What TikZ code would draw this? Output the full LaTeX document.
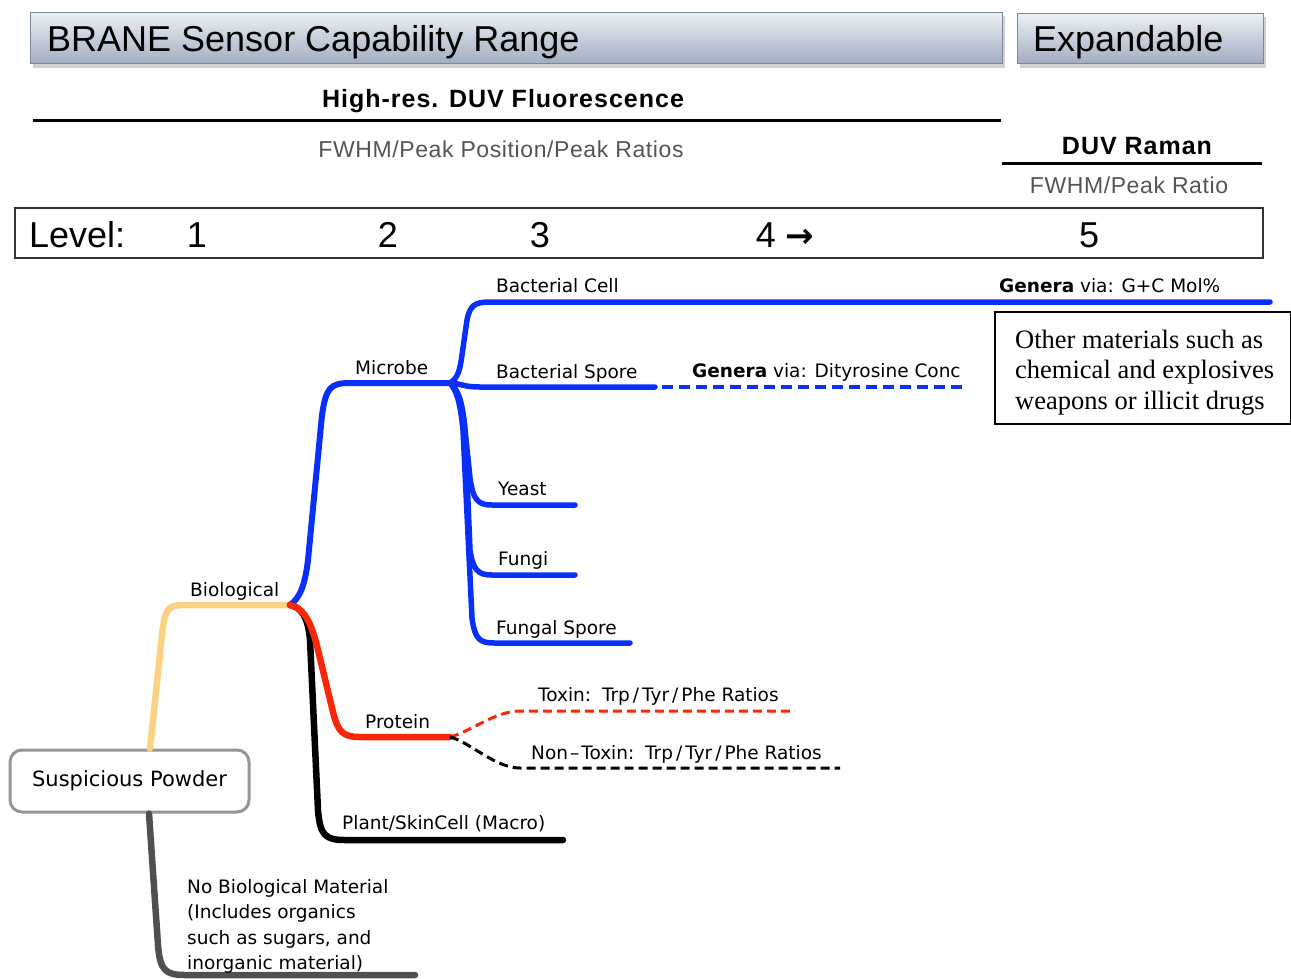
\documentclass[tikz,border=0pt]{standalone}
\usepackage{fontspec}
\setmainfont{Liberation Sans}
\newfontfamily\treefont{DejaVu Sans}
\newfontfamily\boxserif{Liberation Serif}
\newfontfamily\arrowfont{DejaVu Sans}
\definecolor{brblue}{RGB}{8,48,250}
\definecolor{bryellow}{RGB}{250,210,130}
\definecolor{brred}{RGB}{250,40,10}
\definecolor{brgray}{RGB}{80,80,80}
\definecolor{subgray}{RGB}{85,85,85}
\definecolor{bartop}{RGB}{238,241,246}
\definecolor{barbot}{RGB}{162,174,194}
\definecolor{barline}{RGB}{125,135,155}
\definecolor{nodegray}{RGB}{150,150,150}
\newcommand{\myslash}{\kern3pt/\kern3pt}
\begin{document}
\begin{tikzpicture}[x=1pt,y=-1pt,
  headbar/.style={draw=barline, line width=1pt, top color=bartop, bottom color=barbot, rectangle, inner sep=0pt},
  headtxt/.style={font=\fontsize{36}{40}\selectfont, inner sep=0pt, anchor=base},
  subhead/.style={font=\bfseries\fontsize{25}{28}\selectfont\addfontfeature{LetterSpace=4}, inner sep=0pt, anchor=base},
  subtxt/.style={font=\fontsize{23}{26}\selectfont\addfontfeature{LetterSpace=2.6}, text=subgray, inner sep=0pt, anchor=base},
  lbl/.style={font=\treefont\fontsize{18.5}{22}\selectfont, inner sep=0pt, anchor=base west},
  boxtxt/.style={font=\boxserif\fontsize{26.5}{30.5}\selectfont, inner sep=0pt, anchor=base west},
  br/.style={line width=6pt, line cap=round, line join=round},
  leaf/.style={line width=5.5pt, line cap=round, line join=round},
  dashbr/.style={line width=3pt, dash pattern=on 9pt off 5pt},
  shadowbox/.style={fill=black, opacity=0.18}
]
\useasboundingbox (0,0) rectangle (1291,978);
\fill[white] (0,0) rectangle (1291,978);

% header bars
\fill[shadowbox] (33,16) rectangle (1005,68);
\fill[shadowbox] (1020,17) rectangle (1266,68);
\node[headbar, minimum width=972pt, minimum height=51pt] (title) at (516,37.5) {};
\node[headtxt, anchor=base west] (titletxt) at (47,51) {BRANE Sensor Capability Range};
\node[headbar, minimum width=246pt, minimum height=50pt] (expand) at (1140,38) {};
\node[headtxt, anchor=base west] (exptxt) at (1033,51.5) {Expandable};

% method headings
\node[subhead] (fluor) at (503,107) {High-res. DUV Fluorescence};
\draw[line width=3pt] (33,120) -- (1001,120);
\node[subtxt] (fluorsub) at (501,157) {FWHM/Peak Position/Peak Ratios};
\node[subhead] (raman) at (1137,154) {DUV Raman};
\draw[line width=3pt] (1002,163) -- (1262,163);
\node[subtxt] (ramansub) at (1129,193) {FWHM/Peak Ratio};

% level bar
\draw[line width=1.2pt, black!80] (15,208) rectangle (1263,258);
\node[headtxt, anchor=base west] (lvl) at (29,247) {Level:};
\node[headtxt] (l1) at (197,247) {1};
\node[headtxt] (l2) at (388,247) {2};
\node[headtxt] (l3) at (540,247) {3};
\node[headtxt] (l4) at (785,247) {4 {\arrowfont\bfseries\fontsize{34}{40}\selectfont →}};
\node[headtxt] (l5) at (1089,247) {5};

% junctions
\coordinate (bio) at (290,605);
\coordinate (mic) at (450,383);
\coordinate (prot) at (450,737);
\coordinate (bcEnd) at (1270,302);
\coordinate (bsEnd) at (655,387);
\coordinate (bsDash) at (965,387);
\coordinate (yEnd) at (575,505);
\coordinate (fEnd) at (575,575);
\coordinate (fsEnd) at (630,643);
\coordinate (txEnd) at (795,711);
\coordinate (ntEnd) at (840,768);
\coordinate (plEnd) at (563,840);
\coordinate (nbEnd) at (415,975);

% root node
\node[draw=nodegray, line width=3pt, rounded corners=12pt, fill=white, minimum width=239pt, minimum height=62pt,
      font=\treefont\fontsize{21}{24}\selectfont] (sp) at (129.5,781) {\raisebox{-2pt}{Suspicious Powder}};

% branches
\draw[br, bryellow, line width=6.5pt] (sp.north -| 150,0) -- (162,635) .. controls (165,608) and (168,605) .. (185,605) -- (bio);
\draw[br, brgray, line width=6.5pt] (sp.south -| 149,0) -- (158,945) .. controls (160,970) and (165,975) .. (185,975) -- (nbEnd);

\draw[br, brblue] (bio) .. controls (300,598) and (305,585) .. (308,560) -- (322,415) .. controls (326,388) and (330,383) .. (350,383) -- (mic);
\draw[leaf, brblue] (mic) .. controls (458,378) and (460,370) .. (462,355) -- (467,320) .. controls (470,305) and (475,302) .. (490,302) -- (bcEnd);
\draw[leaf, brblue] (mic) .. controls (460,383) and (462,387) .. (480,387) -- (bsEnd);
\draw[dashbr, brblue, line width=4pt, dash pattern=on 11pt off 6pt] (662,387) -- (bsDash);
\draw[leaf, brblue] (mic) .. controls (458,390) and (462,400) .. (465,430) -- (470,478) .. controls (473,500) and (478,505) .. (492,505) -- (yEnd);
\draw[leaf, brblue] (mic) .. controls (458,390) and (462,400) .. (465,430) -- (470,550) .. controls (473,570) and (478,575) .. (492,575) -- (fEnd);
\draw[leaf, brblue] (mic) .. controls (456,390) and (460,400) .. (463,430) -- (472,618) .. controls (475,640) and (480,643) .. (495,643) -- (fsEnd);

\draw[br, black, line width=6.5pt] (bio) .. controls (300,607) and (308,615) .. (310,640) -- (318,810) .. controls (320,835) and (325,840) .. (345,840) -- (plEnd);
\draw[br, brred, line width=6.5pt] (bio) .. controls (305,608) and (312,625) .. (318,650) -- (333,712) .. controls (338,732) and (343,737) .. (360,737) -- (prot);
\draw[dashbr, brred] (prot) .. controls (470,732) and (495,711) .. (520,711) -- (txEnd);
\draw[dashbr, black] (prot) .. controls (470,742) and (495,768) .. (520,768) -- (ntEnd);

% labels
\node[lbl] (biol) at (190,596) {Biological};
\node[lbl] (micl) at (355,374) {Microbe};
\node[lbl] (bcl) at (496,292) {Bacterial Cell};
\node[lbl] (gcl) at (999,292) {\textbf{Genera} via: G+C Mol\%};
\node[lbl] (bsl) at (496,378) {Bacterial Spore};
\node[lbl] (dtl) at (692,377) {\textbf{Genera} via: Dityrosine Conc};
\node[lbl] (yl) at (498,495) {Yeast};
\node[lbl] (fl) at (498,565) {Fungi};
\node[lbl] (fsl) at (496,634) {Fungal Spore};
\node[lbl] (pl) at (365,728) {Protein};
\node[lbl] (txl) at (538,701) {Toxin:\kern3pt{} Trp\myslash Tyr\myslash Phe Ratios};
\node[lbl] (ntl) at (531,759) {Non\kern2pt{}–\kern2pt{}Toxin:\kern3pt{} Trp\myslash Tyr\myslash Phe Ratios};
\node[lbl] (pll) at (342,829) {Plant/SkinCell (Macro)};
\node[font=\treefont\fontsize{18.5}{25.5}\selectfont, inner sep=0pt, anchor=north west, align=left] (nbl) at (187,879)
  {No Biological Material\\(Includes organics\\such as sugars, and\\inorganic material)};

% other materials box
\draw[line width=1.5pt] (995,312) rectangle (1291,424);
\node[boxtxt] (o1) at (1015,348) {Other materials such as};
\node[boxtxt] (o2) at (1015,378.5) {chemical and explosives};
\node[boxtxt] (o3) at (1015,409) {weapons or illicit drugs};
\end{tikzpicture}
\end{document}
